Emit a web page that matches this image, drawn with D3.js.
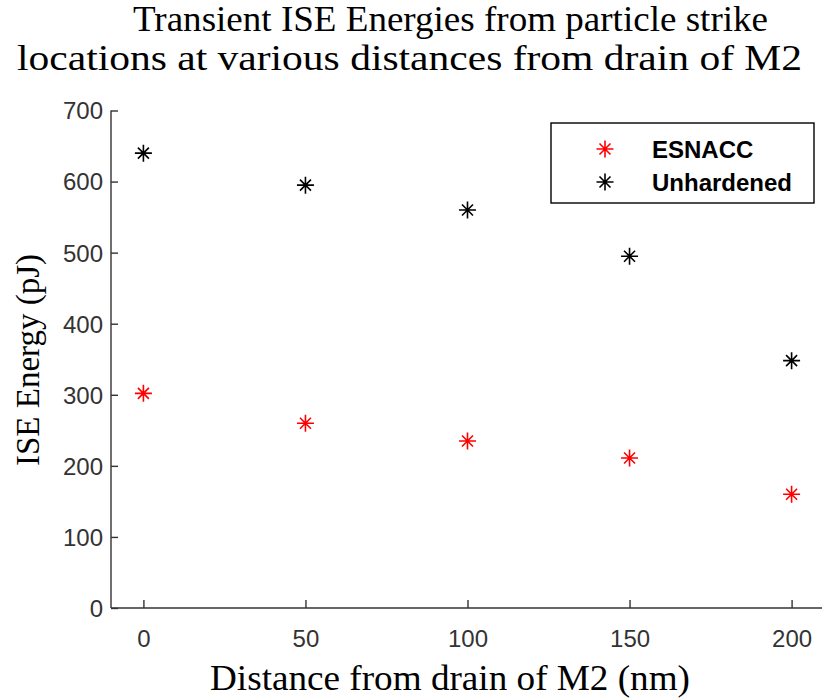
<!DOCTYPE html>
<html>
<head>
<script src="https://d3js.org/d3.v7.min.js"></script>
<style>
  body { margin: 0; background: #fff; }
</style>
</head>
<body>
<svg id="chart" width="822" height="700"></svg>
<script>
// data
const distances = [0, 50, 100, 150, 200];
const esnacc = [302, 260, 235, 211, 160];
const unhardened = [640, 595, 560, 495, 348];
const xTicks = [0, 50, 100, 150, 200];
const yTicks = [0, 100, 200, 300, 400, 500, 600, 700];
const seriesNames = ["ESNACC", "Unhardened"];
const seriesColors = ["#ff0000", "#000000"];

const svg = d3.select("#chart");

let x = d3.scaleLinear().domain([-10, 210]).range([111, 824]);
let y = d3.scaleLinear().domain([0, 700]).range([608, 110.5]);

const serif = "'Liberation Serif', 'Times New Roman', serif";
const sans = "'Liberation Sans', Arial, sans-serif";

// title (two lines, widths matched to the original)
const title = svg.append("g")
    .style("font-family", serif)
    .attr("fill", "#000");
title.append("text").attr("x", 133).attr("y", 31)
    .style("font-size", "35px")
    .attr("textLength", 635).attr("lengthAdjust", "spacingAndGlyphs")
    .text("Transient ISE Energies from particle strike");
title.append("text").attr("x", 17).attr("y", 70)
    .style("font-size", "36px")
    .attr("textLength", 785).attr("lengthAdjust", "spacingAndGlyphs")
    .text("locations at various distances from drain of M2");

// axes
const axisColor = "#333";
let xAxis = svg.append("g")
    .attr("transform", `translate(0,${y(0)})`)
    .call(d3.axisTop(x).tickValues(xTicks).tickSize(8).tickFormat(d3.format("d")));
let yAxis = svg.append("g")
    .attr("transform", `translate(${x(-10)},0)`)
    .call(d3.axisRight(y).tickValues(yTicks).tickSize(7).tickFormat(d3.format("d")));

[xAxis, yAxis].forEach(a => {
    a.select(".domain").attr("stroke", axisColor).attr("stroke-width", 1.4);
    a.selectAll(".tick line").attr("stroke", axisColor).attr("stroke-width", 1.4);
    a.selectAll(".tick text")
        .style("font-family", sans)
        .style("font-size", "24px")
        .attr("fill", "#333");
});
// plain axis lines, no end caps
xAxis.select(".domain").attr("d", `M${x(-10)},0H${x(210)}`);
yAxis.select(".domain").attr("d", `M0,${y(0)}V${y(700)}`);

xAxis.selectAll(".tick text").attr("y", 22).attr("dy", "0.71em");
yAxis.selectAll(".tick text").attr("x", -8).attr("text-anchor", "end").attr("dy", "0.35em");

// axis labels
svg.append("text")
    .attr("x", 210).attr("y", 690)
    .attr("textLength", 480).attr("lengthAdjust", "spacingAndGlyphs")
    .style("font-family", serif)
    .style("font-size", "35px")
    .text("Distance from drain of M2 (nm)");
svg.append("text")
    .attr("transform", "translate(39,360) rotate(-90)")
    .attr("text-anchor", "middle")
    .style("font-family", serif)
    .style("font-size", "33px")
    .text("ISE Energy (pJ)");

// asterisk marker
function star(cx, cy) {
    const a = 8.5, b = 5.5;
    return `M${cx - a},${cy}H${cx + a}M${cx},${cy - a}V${cy + a}` +
        `M${cx - b},${cy - b}L${cx + b},${cy + b}M${cx - b},${cy + b}L${cx + b},${cy - b}`;
}

const series = [esnacc, unhardened];
series.forEach((vals, i) => {
    svg.append("g").selectAll("path")
        .data(distances.map((d, j) => [d, vals[j]]))
        .join("path")
        .attr("d", d => star(x(d[0]), y(d[1])))
        .attr("stroke", seriesColors[i])
        .attr("stroke-width", 1.6)
        .attr("fill", "none");
});

// legend
let legend = svg.append("g");
legend.append("rect")
    .attr("x", 551).attr("y", 123).attr("width", 263).attr("height", 80)
    .attr("fill", "#fff").attr("stroke", "#000").attr("stroke-width", 1.4);
seriesNames.forEach((name, i) => {
    const ly = 149 + i * 33;
    legend.append("path").attr("d", star(605, ly))
        .attr("stroke", seriesColors[i]).attr("stroke-width", 1.6).attr("fill", "none");
    legend.append("text")
        .attr("x", 652).attr("y", ly).attr("dy", "0.36em")
        .style("font-family", sans)
        .style("font-size", "24px")
        .style("font-weight", "bold")
        .text(name);
});
</script>
</body>
</html>
